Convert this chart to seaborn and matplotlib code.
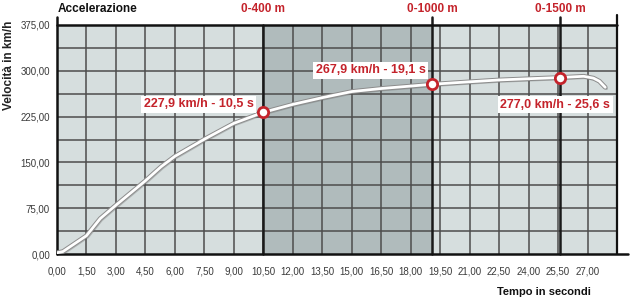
import numpy as np
import pandas as pd
import matplotlib
matplotlib.use("Agg")
import matplotlib.pyplot as plt
import matplotlib.patheffects as pe
import seaborn as sns

# ---- data ----
tempo = [0.0, 0.3, 1.5, 2.2, 3.0, 4.5, 5.3, 6.0, 7.5, 9.0, 10.5, 12.0, 13.5, 15.0,
         16.5, 18.0, 19.1, 21.0, 22.5, 24.0, 25.6, 26.8, 27.3, 27.6, 27.9]
velocita = [2, 4, 30, 58, 80, 120, 143, 160, 188, 214, 232, 245, 256, 266,
            271, 275, 278, 282, 285, 287, 289, 291, 288, 283, 273]

mark_t = [10.5, 19.1, 25.6]
mark_v = [232, 278, 289]
mark_labels = ["227,9 km/h - 10,5 s", "267,9 km/h - 19,1 s", "277,0 km/h - 25,6 s"]
dist_labels = ["0-400 m", "0-1000 m", "0-1500 m"]

x_ticks = [i * 1.5 for i in range(19)]
y_ticks = [0, 75, 150, 225, 300, 375]

RED = "#c4232b"
LIGHT = "#d6dede"
DARK = "#b0bbbc"
GRID = "#4d4d4d"

sns.set_style("white")
plt.rcParams["font.family"] = ["Liberation Sans", "DejaVu Sans"]

fig = plt.figure(figsize=(6.30, 2.98), dpi=100)
ax = fig.add_axes([57 / 630, 1 - 254 / 298, (617 - 57) / 630, (254 - 25) / 298])
ax.set_facecolor(LIGHT)
ax.set_xlim(0, 28.5)
ax.set_ylim(0, 375)

# shaded 0-400 .. 0-1000 region
ax.axvspan(mark_t[0], mark_t[1], color=DARK, zorder=0.5, lw=0)

# grid
for xv in np.arange(1.5, 28.5, 1.5):
    ax.axvline(xv, color=GRID, lw=1.1, zorder=1)
for yv in np.arange(37.5, 375, 37.5):
    ax.axhline(yv, color=GRID, lw=1.1, zorder=1)

# marker vertical lines (extend above the axes)
for i, t in enumerate(mark_t):
    top = 1.0 if i == 0 else 1.035
    ax.axvline(t, ymin=0, ymax=top, color="#1a1a1a", lw=1.8, zorder=2, clip_on=False)

# frame lines
ax.axvline(0, ymin=0, ymax=1.035, color="#111111", lw=1.8, zorder=3, clip_on=False)
ax.axvline(28.5, ymin=0, ymax=1.045, color="#111111", lw=1.6, zorder=3, clip_on=False)
ax.axhline(375, xmin=0, xmax=1, color="#111111", lw=1.8, zorder=3, clip_on=False)
ax.axhline(0, xmin=0, xmax=1.02, color="#111111", lw=1.8, zorder=3, clip_on=False)
for s in ax.spines.values():
    s.set_visible(False)

# curve
df = pd.DataFrame({"t": tempo, "v": velocita})
sns.lineplot(data=df, x="t", y="v", ax=ax, color="white", lw=2.0, zorder=4,
             sort=False, estimator=None,
             path_effects=[pe.SimpleLineShadow(offset=(1.0, -1.0), shadow_color="#555555", alpha=0.3),
                           pe.Stroke(linewidth=3.4, foreground="#8c8c8c"), pe.Normal()])

# markers
sns.scatterplot(x=mark_t, y=mark_v, ax=ax, s=55, color="white", edgecolor=RED,
                linewidth=2.0, zorder=6, clip_on=False)

# annotations
box = dict(boxstyle="square,pad=0.2", fc="white", ec="none")
ax.text(10.0, 245, mark_labels[0], ha="right", va="center", color=RED,
        fontsize=9, fontweight="bold", bbox=box, zorder=7)
ax.text(18.75, 301, mark_labels[1], ha="right", va="center", color=RED,
        fontsize=9, fontweight="bold", bbox=box, zorder=7)
ax.text(25.35, 244, mark_labels[2], ha="center", va="center", color=RED,
        fontsize=9, fontweight="bold", bbox=box, zorder=7)

# distance labels above
for t, lab in zip(mark_t, dist_labels):
    ax.text(t, 375 + 26, lab, ha="center", va="center", color=RED,
            fontsize=8.5, fontweight="bold", clip_on=False)

ax.set_xticks(x_ticks)
ax.set_xticklabels([f"{v:.2f}".replace(".", ",") for v in x_ticks])
ax.set_yticks(y_ticks)
ax.set_yticklabels([f"{v:.2f}".replace(".", ",") for v in y_ticks])
ax.tick_params(axis="both", length=0, labelsize=7, labelcolor="#3a3a3a")
ax.tick_params(axis="x", pad=9)
ax.tick_params(axis="y", pad=5)
ax.set_xlabel("")
ax.set_ylabel("")

fig.text(58 / 630, 1 - 9 / 298, "Accelerazione", ha="left", va="center",
         fontsize=8.5, fontweight="bold", color="#111111")
fig.text(9 / 630, 1 - 65 / 298, "Velocità in km/h", ha="center", va="center",
         rotation=90, fontsize=8.5, fontweight="bold", color="#222222")
fig.text(544 / 630, 1 - 292 / 298, "Tempo in secondi", ha="center", va="center",
         fontsize=8, fontweight="bold", color="#111111")

fig.savefig("out.png", dpi=100, facecolor="white")
